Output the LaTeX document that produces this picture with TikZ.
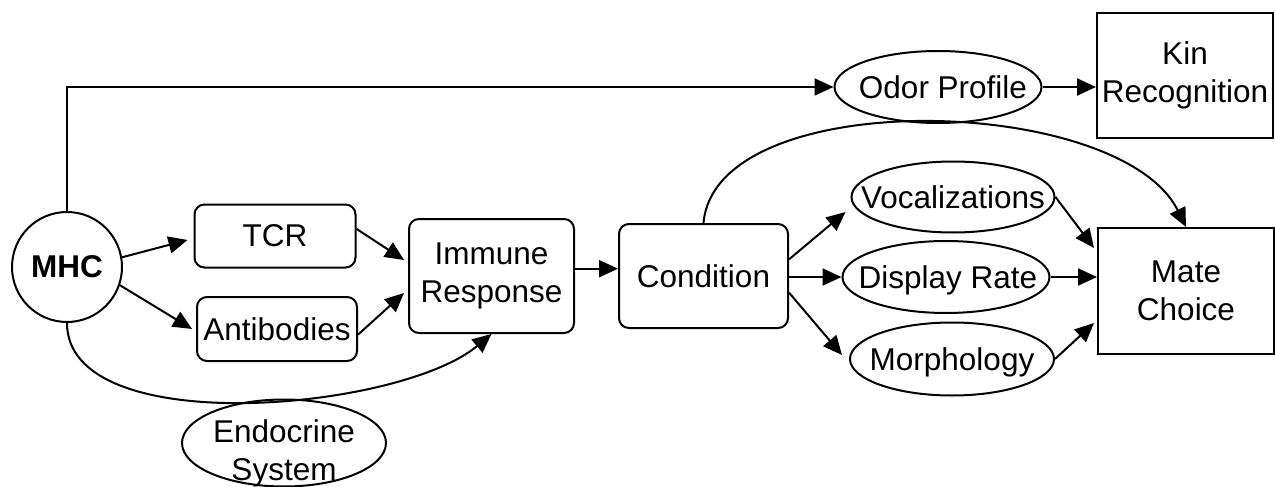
\documentclass[tikz,border=0pt]{standalone}
\usepackage{fontspec}
\setmainfont{Liberation Sans}
\usetikzlibrary{arrows.meta,shapes.geometric,calc}
\begin{document}
\begin{tikzpicture}[x=1pt,y=-1pt,
  every node/.style={font=\fontsize{31.5}{38}\selectfont},
  rbox/.style={draw, line width=2pt, rounded corners=10pt, inner sep=0pt},
  sbox/.style={draw, line width=2pt, inner sep=0pt, align=center},
  oval/.style={draw, ellipse, line width=2pt, inner sep=0pt},
  lbl/.style={text depth=0pt, inner sep=0pt},
  arr/.style={line width=2pt, -{Triangle[length=19pt,width=17pt]}},
]
\useasboundingbox (0,0) rectangle (1275,487);

\node[circle, draw, line width=2pt, minimum size=110pt, inner sep=0pt,
      font=\fontsize{31.5}{38}\selectfont\bfseries] (mhc) at (67,267) {MHC};
\node[rbox, minimum width=161pt, minimum height=63pt] (tcr) at (275,236) {TCR};
\node[rbox, minimum width=160pt, minimum height=64pt] (ab) at (277,329) {Antibodies};
\node[rbox, minimum width=165pt, minimum height=114pt, align=center] (imm) at (491.5,276) {Immune\\Response};
\node[rbox, minimum width=169pt, minimum height=104pt, text depth=0pt] (cond) at (703.5,276) {Condition};

\node[oval, minimum width=207pt, minimum height=72pt,
      label={[lbl,name=odortext,xshift=5pt]center:Odor Profile}] (odor) at (938,87) {};
\node[oval, minimum width=203pt, minimum height=71pt,
      label={[lbl,name=voctext]center:Vocalizations}] (voc) at (953,197) {};
\node[oval, minimum width=207pt, minimum height=72pt,
      label={[lbl,name=disptext,xshift=2pt]center:Display Rate}] (disp) at (946,277) {};
\node[oval, minimum width=204pt, minimum height=73pt,
      label={[lbl,name=morphtext]center:Morphology}] (morph) at (952,359) {};

\node[sbox, minimum width=176pt, minimum height=125pt] (kin) at (1185,75.5) {Kin\\Recognition};
\node[sbox, minimum width=176pt, minimum height=126pt] (mate) at (1186,291) {Mate\\Choice};

\node[oval, minimum width=204pt, minimum height=87pt] (endo) at (284,443) {};
\node[align=center, inner sep=0pt] (endotext) at (284,453) {Endocrine\\System};

% connectors
\draw[arr] (mhc.north) |- (odor.west);
\draw[arr] (odor.east) -- (kin.west |- odor.east);
\draw[arr] (mhc.10) -- ($(tcr.west)+(-6,4)$);
\draw[arr] (mhc.-19) -- ($(ab.west)+(-4,0)$);
\draw[arr] (tcr.5) -- ($(imm.west)+(-4,-16)$);
\draw[arr] (ab.-4) -- ($(imm.west)+(-4,17)$);
\draw[arr] (mhc.south) .. controls +(0,118) and +(-92,77) .. (imm.south);
\draw[arr] (imm.5) -- (imm.5 -| cond.west);
\draw[arr] (cond.11) -- ($(voc.west)+(-5,15)$);
\draw[arr] (disp.west -| cond.east) -- (disp.west);
\draw[arr] (cond.-11) -- ($(morph.west)+(-7,-4)$);
\draw[arr] (voc.east) -- ($(mate.west)+(-3,-43)$);
\draw[arr] (disp.east) -- (disp.east -| mate.west);
\draw[arr] (morph.east) -- ($(mate.west)+(-3,32)$);
\draw[arr] (cond.north) .. controls +(12,-139) and +(-66,-133) .. (mate.north);
\end{tikzpicture}
\end{document}
